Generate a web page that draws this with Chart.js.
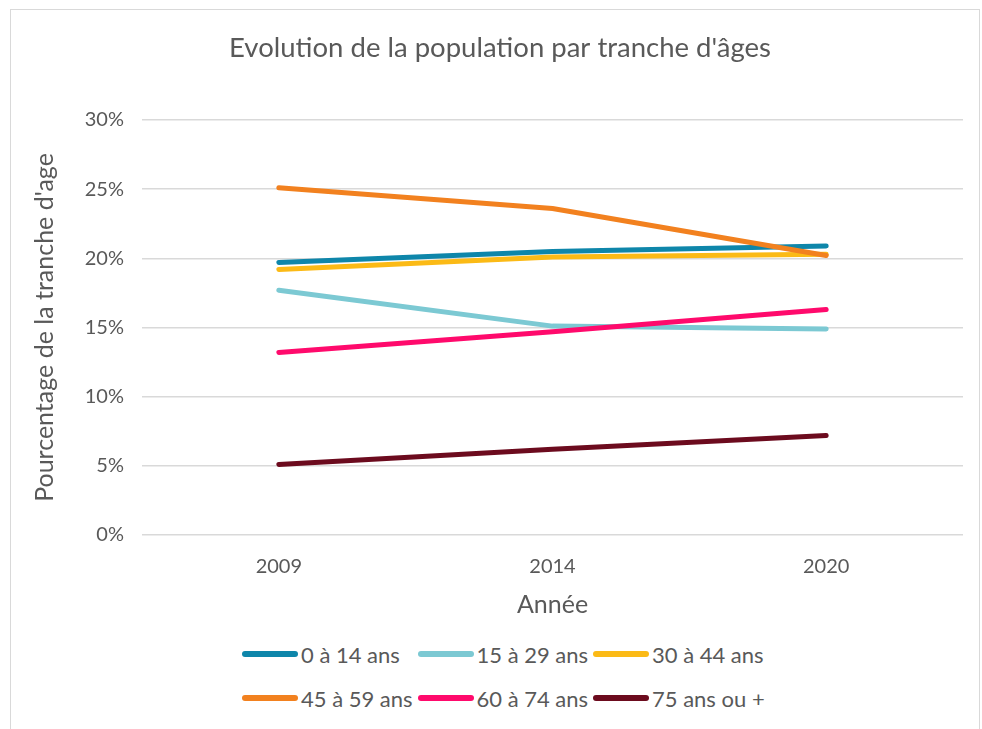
<!DOCTYPE html>
<html lang="fr">
<head>
<meta charset="utf-8">
<script src="https://cdn.jsdelivr.net/npm/chart.js@4.4.1/dist/chart.umd.min.js"></script>
<style>
  body { margin: 0; background: #fff; font-family: Lato, 'Open Sans', sans-serif; }
  #cadre { position: absolute; left: 10px; top: 9px; width: 970px; height: 740px; border: 1px solid #d9d9d9; box-sizing: border-box; }
  #graphique { position: absolute; left: 10px; top: 9px; }
  #legende { position: absolute; left: 242px; top: 642px; display: grid; grid-template-columns: 175.5px 175.5px 200px; row-gap: 20px; }
  .item { display: flex; align-items: center; height: 24px; font-size: 22px; color: #595959; white-space: nowrap; }
  .trait { width: 56px; height: 6px; border-radius: 3px; margin-right: 3px; }
</style>
</head>
<body>
<div id="cadre"></div>
<canvas id="graphique" width="970" height="621"></canvas>
<div id="legende"></div>
<script>
// --- DONNÉES ---
const annees = ['2009', '2014', '2020'];
const tranches = ['0 à 14 ans', '15 à 29 ans', '30 à 44 ans', '45 à 59 ans', '60 à 74 ans', '75 ans ou +'];
const couleurs = ['#0E86AA', '#7CC9D3', '#FBBA16', '#F2811F', '#FF0A6C', '#6C0B1E'];

const pop0a14 = [19.7, 20.5, 20.9];
const pop15a29 = [17.7, 15.1, 14.9];
const pop30a44 = [19.2, 20.1, 20.3];
const pop45a59 = [25.1, 23.6, 20.2];
const pop60a74 = [13.2, 14.7, 16.3];
const pop75plus = [5.1, 6.2, 7.2];

const series = [pop0a14, pop15a29, pop30a44, pop45a59, pop60a74, pop75plus];
const gris = '#595959';

// --- GRAPHIQUE ---
const ctx = document.getElementById('graphique').getContext('2d');
const graphique = new Chart(ctx, {
    type: 'line',
    data: {
        labels: annees,
        datasets: series.map((valeurs, i) => ({
            label: tranches[i],
            data: valeurs,
            borderColor: couleurs[i],
            backgroundColor: couleurs[i],
            borderWidth: 5,
            borderCapStyle: 'round',
            borderJoinStyle: 'round',
            pointRadius: 0,
            tension: 0,
            order: series.length - i
        }))
    },
    options: {
        responsive: false,
        animation: false,
        layout: { padding: { left: 27, right: 17, top: 0, bottom: 0 } },
        scales: {
            x: {
                offset: true,
                grid: { display: false },
                border: { display: false },
                ticks: { color: gris, font: { size: 20, family: 'Lato' }, padding: 12 },
                title: { display: true, text: 'Année', color: gris, font: { size: 25, family: 'Lato' }, padding: { top: 4, bottom: 10 } },
                afterFit: (scale) => { scale.height = 95; }
            },
            y: {
                min: 0,
                max: 30,
                ticks: { stepSize: 5, color: gris, font: { size: 20, family: 'Lato' }, padding: 18, callback: v => v + '%' },
                grid: { color: '#d9d9d9', lineWidth: 1.5, drawTicks: false },
                border: { display: false },
                title: { display: true, text: "Pourcentage de la tranche d'age", color: gris, font: { size: 25, family: 'Lato' }, padding: { top: -7, bottom: 0 } },
                afterFit: (scale) => { scale.width = 105; }
            }
        },
        plugins: {
            legend: { display: false },
            tooltip: { enabled: false },
            title: {
                display: true,
                text: "Evolution de la population par tranche d'âges",
                color: gris,
                font: { size: 27.5, weight: 'normal', family: 'Lato' },
                padding: { top: 22.5, bottom: 55.5 }
            }
        }
    }
});

// --- LÉGENDE ---
const legende = document.getElementById('legende');
tranches.forEach((nom, i) => {
    const item = document.createElement('div');
    item.className = 'item';
    item.innerHTML = `<span class="trait" style="background:${couleurs[i]}"></span>${nom}`;
    legende.appendChild(item);
});
</script>
</body>
</html>
